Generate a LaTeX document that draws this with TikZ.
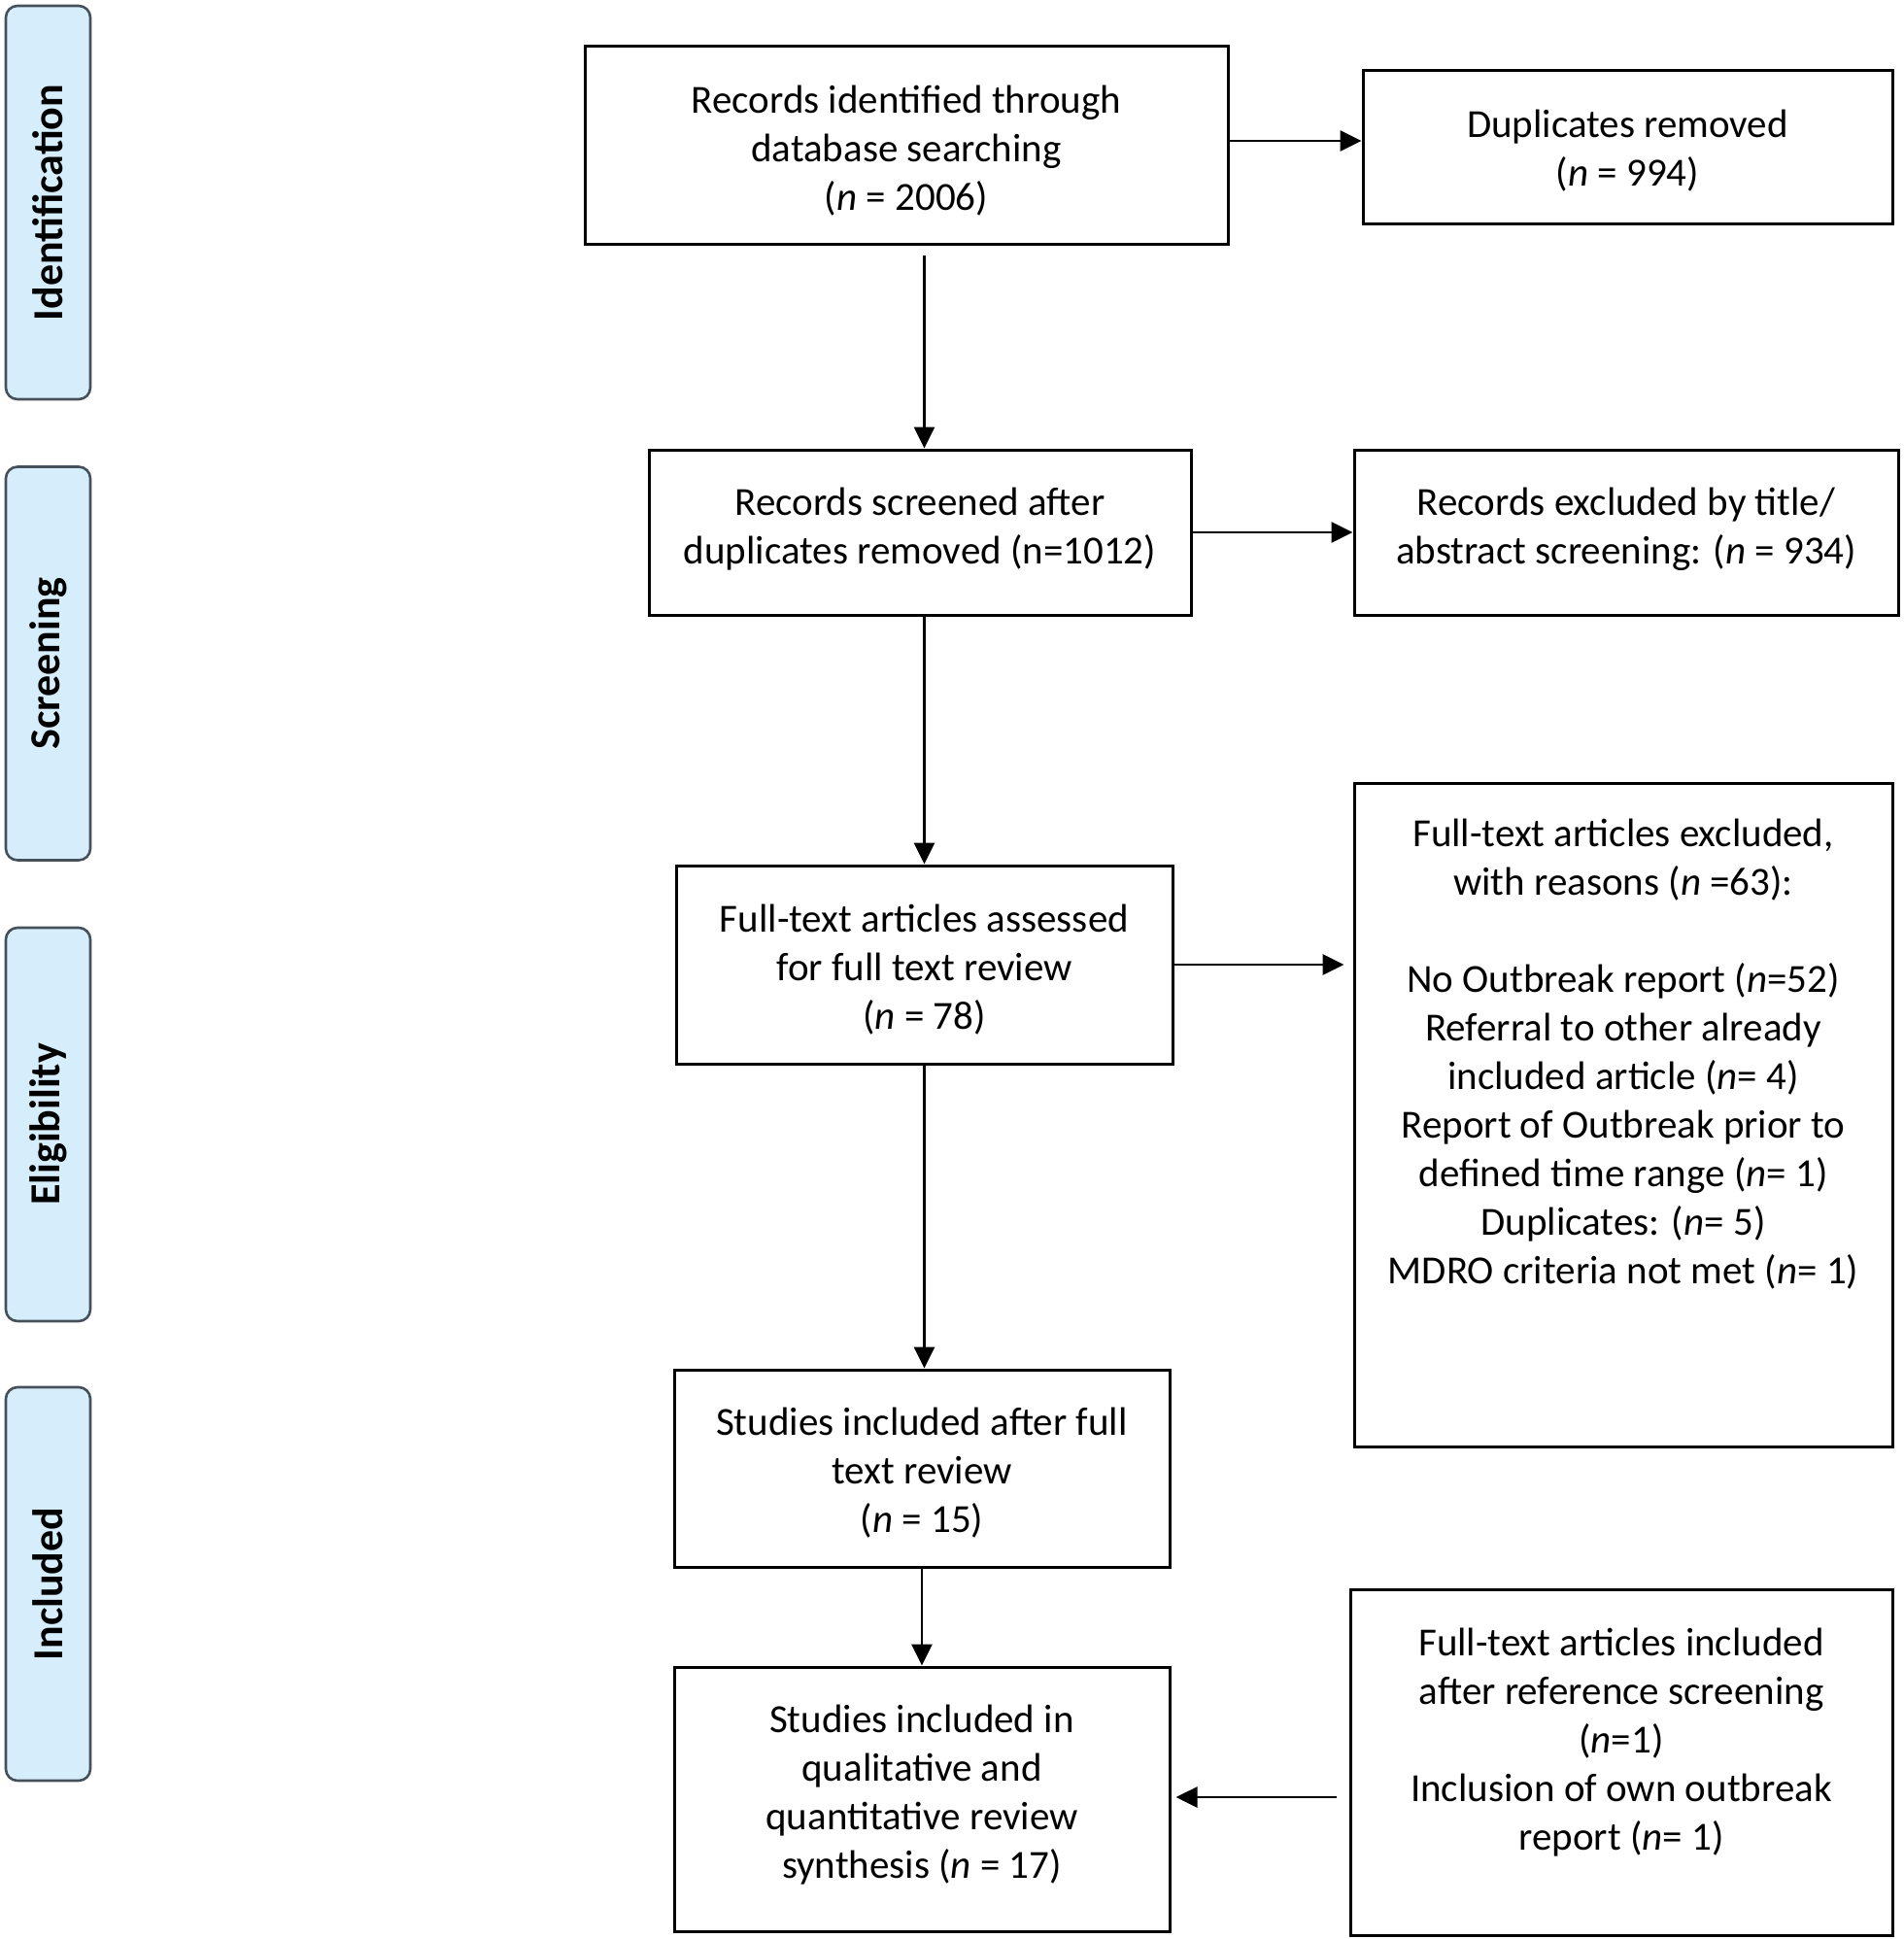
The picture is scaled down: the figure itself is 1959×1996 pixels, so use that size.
\documentclass[tikz,border=0pt]{standalone}
\usepackage{fontspec}
\setmainfont{Carlito}
\usetikzlibrary{arrows.meta}
\definecolor{stagefill}{RGB}{214,238,252}
\definecolor{stageedge}{RGB}{70,80,90}
\tikzset{
  box/.style={draw=black, line width=3pt, rectangle, align=center, inner sep=0pt,
    font=\fontsize{41}{50}\selectfont},
  txt/.style={align=center, inner sep=0pt, font=\fontsize{41}{50}\selectfont},
  stage/.style={draw=stageedge, fill=stagefill, line width=2.6pt, rounded corners=12pt,
    rotate=90, minimum width=405pt, minimum height=87pt, inner sep=0pt,
    font=\fontsize{44}{50}\selectfont\bfseries},
  arr/.style={line width=2.8pt, -{Triangle[length=22pt,width=21pt]}}
}
\begin{document}
\begin{tikzpicture}[x=1pt,y=-1pt]
\useasboundingbox (0,0) rectangle (1959,1996);
% stage labels
\node[stage] (sid) at (49.5,208.5) {Identification};
\node[stage] (sscr) at (49.5,683) {Screening};
\node[stage] (selig) at (49.5,1157.5) {Eligibility};
\node[stage] (sinc) at (49.5,1630.5) {Included};
% main boxes
\node[box, minimum width=662pt, minimum height=203pt] (box1) at (933,149.5) {};
\node[txt] (box1t) at (933,155)
  {Records identified through\\database searching\\(\textit{n} = 2006)};
\node[box, minimum width=545pt, minimum height=157pt] (dup) at (1675.5,151.5) {};
\node[txt] (dupt) at (1675.5,155) {Duplicates removed\\(\textit{n} = 994)};
\node[box, minimum width=558pt, minimum height=170pt] (box2) at (947,548) {};
\node[txt] (box2t) at (947,545) {Records screened after\\duplicates removed (n=1012)};
\node[box, minimum width=560pt, minimum height=170pt] (excl1) at (1674,548) {};
\node[txt] (excl1t) at (1674,545) {Records excluded by title/\\abstract screening: (\textit{n} = 934)};
\node[box, minimum width=511pt, minimum height=204pt] (box3) at (951.5,993) {};
\node[txt] (box3t) at (951.5,998)
  {Full-text articles assessed\\for full text review\\(\textit{n} = 78)};
\node[box, minimum width=554pt, minimum height=683pt] (excl2) at (1671,1147.5) {};
\node[txt, anchor=north] (excl2t) at (1671,843)
  {Full-text articles excluded,\\with reasons (\textit{n} =63):\\[50pt]
   No Outbreak report (\textit{n}=52)\\Referral to other already\\included article (\textit{n}= 4)\\
   Report of Outbreak prior to\\defined time range (\textit{n}= 1)\\Duplicates: (\textit{n}= 5)\\
   MDRO criteria not met (\textit{n}= 1)};
\node[box, minimum width=510pt, minimum height=203pt] (box4) at (949,1511.5) {};
\node[txt] (box4t) at (949,1516)
  {Studies included after full\\text review\\(\textit{n} = 15)};
\node[box, minimum width=510pt, minimum height=272pt] (box5) at (949,1852) {};
\node[txt] (box5t) at (949,1848)
  {Studies included in\\qualitative and\\quantitative review\\synthesis (\textit{n} = 17)};
\node[box, minimum width=558pt, minimum height=356pt] (rb) at (1669,1814) {};
\node[txt] (rbt) at (1669,1794)
  {Full-text articles included\\after reference screening\\(\textit{n}=1)\\Inclusion of own outbreak\\report (\textit{n}= 1)};
% connectors
\draw[arr] ([yshift=4.5pt]box1.east) -- ([yshift=4.5pt]box1.east -| dup.west);
\draw[arr, shorten <=10pt] (box1.south -| box3.north) -- (box2.north -| box3.north);
\draw[arr] (box2.east) -- (excl1.west);
\draw[arr] (box2.south -| box3.north) -- (box3.north);
\draw[arr, shorten >=9pt] (box3.east) -- (box3.east -| excl2.west);
\draw[arr] (box3.south) -- (box3.south |- box4.north);
\draw[arr] (box4.south) -- (box5.north);
\draw[arr, shorten <=13pt, shorten >=5pt] ([yshift=2pt]box5.east -| rb.west) -- ([yshift=2pt]box5.east);
\end{tikzpicture}
\end{document}
